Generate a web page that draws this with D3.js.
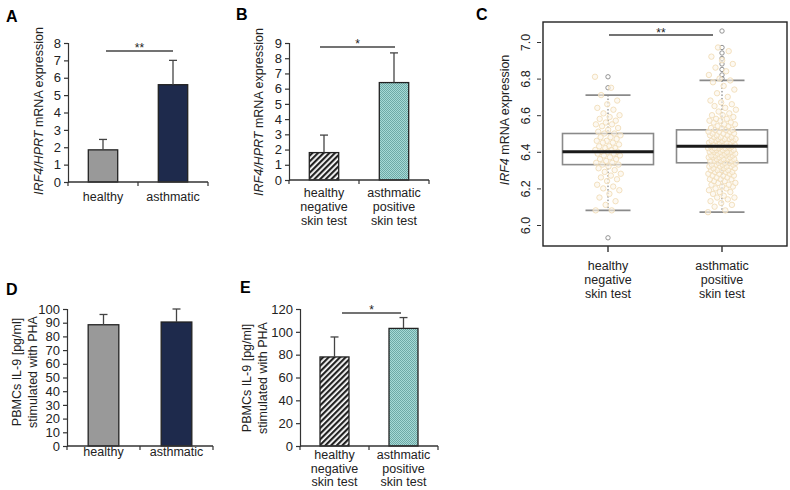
<!DOCTYPE html>
<html><head><meta charset="utf-8">
<script src="https://cdn.jsdelivr.net/npm/d3@7"></script>
<style>body{margin:0;background:#fff}svg{display:block;font-family:"Liberation Sans",Arial,sans-serif}</style>
</head><body>
<svg id="c" width="790" height="490"></svg>
<script>
// ---------- DATA ----------
const catsSimple = ["healthy", "asthmatic"];
const catsSkin = [["healthy", "negative", "skin test"], ["asthmatic", "positive", "skin test"]];

const aValues = [1.85, 5.6];
const aErrTop = [2.45, 7.0];
const aTicks = [0, 1, 2, 3, 4, 5, 6, 7, 8];

const bValues = [1.8, 6.4];
const bErrTop = [2.95, 8.35];
const bTicks = [0, 1, 2, 3, 4, 5, 6, 7, 8, 9];

const dValues = [88.5, 90.5];
const dErrTop = [96, 100];
const dTicks = [0, 10, 20, 30, 40, 50, 60, 70, 80, 90, 100];

const eValues = [78, 103];
const eErrTop = [95.5, 112.5];
const eTicks = [0, 20, 40, 60, 80, 100, 120];

const cTicks = [6.0, 6.2, 6.4, 6.6, 6.8, 7.0];
const cQ1 = [6.33, 6.34];
const cMedian = [6.40, 6.43];
const cQ3 = [6.50, 6.52];
const cWhiskLo = [6.08, 6.07];
const cWhiskHi = [6.71, 6.79];
const cOutliers = [[6.81, 6.75, 5.93], [7.06, 6.97, 6.94, 6.91, 6.88, 6.85, 6.82, 6.80]];
const cPointsHealthy = [6.81,6.75,6.71,6.68,6.66,6.64,6.63,6.61,6.60,6.59,6.58,6.57,6.56,6.55,6.55,6.54,6.53,6.52,6.51,6.50,6.50,6.49,6.48,6.48,6.47,6.46,6.46,6.45,6.45,6.44,6.43,6.43,6.42,6.42,6.41,6.41,6.40,6.40,6.40,6.39,6.39,6.38,6.38,6.37,6.36,6.36,6.35,6.34,6.34,6.33,6.33,6.32,6.31,6.30,6.29,6.28,6.27,6.26,6.25,6.24,6.22,6.21,6.20,6.19,6.17,6.15,6.13,6.11,6.08,6.08];
const cPointsAsthmatic = [6.07,6.08,6.10,6.11,6.12,6.13,6.14,6.15,6.15,6.16,6.17,6.18,6.18,6.19,6.20,6.20,6.21,6.21,6.22,6.22,6.23,6.23,6.24,6.24,6.25,6.25,6.25,6.26,6.26,6.27,6.27,6.27,6.28,6.28,6.28,6.29,6.29,6.29,6.30,6.30,6.30,6.30,6.31,6.31,6.31,6.32,6.32,6.32,6.32,6.33,6.33,6.33,6.33,6.34,6.34,6.34,6.34,6.35,6.35,6.35,6.35,6.36,6.36,6.36,6.36,6.37,6.37,6.37,6.37,6.38,6.38,6.38,6.38,6.38,6.39,6.39,6.39,6.39,6.40,6.40,6.40,6.40,6.40,6.41,6.41,6.41,6.41,6.42,6.42,6.42,6.42,6.42,6.43,6.43,6.43,6.43,6.44,6.44,6.44,6.44,6.45,6.45,6.45,6.45,6.46,6.46,6.46,6.46,6.47,6.47,6.47,6.47,6.48,6.48,6.48,6.49,6.49,6.49,6.50,6.50,6.50,6.51,6.51,6.51,6.52,6.52,6.52,6.53,6.53,6.54,6.54,6.55,6.55,6.56,6.56,6.57,6.57,6.58,6.58,6.59,6.60,6.60,6.61,6.62,6.63,6.64,6.65,6.66,6.67,6.68,6.70,6.72,6.74,6.76,6.78,6.79,6.80,6.82,6.84,6.86,6.88,6.90,6.92,6.95,6.97];

// ---------- DRAW ----------
const svg = d3.select("#c");
const defs = svg.append("defs");
const hatch = defs.append("pattern").attr("id", "hatch").attr("patternUnits", "userSpaceOnUse")
  .attr("width", 4).attr("height", 4).attr("patternTransform", "rotate(45)");
hatch.append("rect").attr("width", 4).attr("height", 4).attr("fill", "#ffffff");
hatch.append("rect").attr("width", 2.2).attr("height", 4).attr("fill", "#222222");
const teal = defs.append("pattern").attr("id", "teal").attr("patternUnits", "userSpaceOnUse")
  .attr("width", 2).attr("height", 2);
teal.append("rect").attr("width", 2).attr("height", 2).attr("fill", "#a6dad6");
teal.append("rect").attr("width", 1).attr("height", 1).attr("fill", "#6ea9a6");
teal.append("rect").attr("x", 1).attr("y", 1).attr("width", 1).attr("height", 1).attr("fill", "#6ea9a6");

const AX = "#333";
function letter(t, x, y) {
  svg.append("text").attr("x", x).attr("y", y).attr("font-size", 16).attr("font-weight", "bold").text(t);
}

function barPanel(o) {
  const g = svg.append("g");
  const y = d3.scaleLinear().domain([0, o.ticks[o.ticks.length - 1]]).range([o.y0, o.y1]);
  const x = d3.scaleBand().domain(d3.range(o.values.length)).range([o.x0, o.x1]).paddingInner(0.58).paddingOuter(0.29);
  const ya = g.append("g").attr("transform", `translate(${o.x0},0)`)
    .call(d3.axisLeft(y).tickValues(o.ticks).tickSize(4).tickPadding(3).tickFormat(d3.format("d")));
  ya.select(".domain").attr("stroke", AX).attr("stroke-width", 1.2);
  ya.selectAll(".tick line").attr("stroke", AX).attr("stroke-width", 1.2);
  ya.selectAll("text").attr("font-size", 13).attr("fill", "#222").attr("font-family", "Liberation Sans, Arial");
  g.selectAll("rect.bar").data(o.values).join("rect").attr("class", "bar")
    .attr("x", (d, i) => x(i)).attr("width", x.bandwidth())
    .attr("y", d => y(d)).attr("height", d => y(0) - y(d))
    .attr("fill", (d, i) => o.fills[i]).attr("stroke", "#222").attr("stroke-width", 1.3);
  o.err.forEach((e, i) => {
    const cx = x(i) + x.bandwidth() / 2;
    g.append("line").attr("x1", cx).attr("x2", cx).attr("y1", y(o.values[i])).attr("y2", y(e)).attr("stroke", "#444").attr("stroke-width", 1.3);
    g.append("line").attr("x1", cx - 4).attr("x2", cx + 4).attr("y1", y(e)).attr("y2", y(e)).attr("stroke", "#444").attr("stroke-width", 1.3);
  });
  g.append("line").attr("x1", o.x0).attr("x2", o.x1).attr("y1", o.y0).attr("y2", o.y0).attr("stroke", AX).attr("stroke-width", 1.3);
  [o.x0, (o.x0 + o.x1) / 2, o.x1].forEach(t => g.append("line").attr("x1", t).attr("x2", t).attr("y1", o.y0).attr("y2", o.y0 + 4).attr("stroke", AX).attr("stroke-width", 1.2));
  o.cats.forEach((c, i) => {
    const lines = Array.isArray(c) ? c : [c];
    const cx = x(i) + x.bandwidth() / 2;
    lines.forEach((l, j) => g.append("text").attr("x", cx).attr("y", o.labelY + j * o.lineH)
      .attr("text-anchor", "middle").attr("font-size", 12.5).attr("fill", "#222").text(l));
  });
  const yl = g.append("text").attr("transform", `translate(${o.ylX},${o.ylY}) rotate(-90)`)
    .attr("text-anchor", "middle").attr("font-size", 12.5).attr("fill", "#222");
  if (o.ylabel === "irf") {
    yl.append("tspan").attr("font-style", "italic").text("IRF4/HPRT");
    yl.append("tspan").text(" mRNA expression");
  } else {
    yl.append("tspan").attr("x", 0).attr("dy", "-0.55em").text("PBMCs IL-9 [pg/ml]");
    yl.append("tspan").attr("x", 0).attr("dy", "1.25em").text("stimulated with PHA");
  }
  if (o.sig) {
    g.append("line").attr("x1", o.sig.x1).attr("x2", o.sig.x2).attr("y1", o.sig.y).attr("y2", o.sig.y).attr("stroke", "#444").attr("stroke-width", 1.3);
    g.append("text").attr("x", (o.sig.x1 + o.sig.x2) / 2).attr("y", o.sig.y + 1).attr("text-anchor", "middle").attr("font-size", 12).attr("fill", "#222").text(o.sig.t);
  }
}

letter("A", 6, 22);
barPanel({x0: 68, x1: 208, y0: 182, y1: 43, ticks: aTicks, values: aValues, err: aErrTop, fills: ["#999999", "#1e2a4c"],
  cats: catsSimple, labelY: 201, lineH: 14, ylabel: "irf", ylX: 43, ylY: 111, sig: {x1: 106, x2: 173, y: 51, t: "**"}});

letter("B", 236, 20);
barPanel({x0: 289, x1: 429, y0: 180, y1: 43, ticks: bTicks, values: bValues, err: bErrTop, fills: ["url(#hatch)", "url(#teal)"],
  cats: catsSkin, labelY: 197, lineH: 14, ylabel: "irf", ylX: 263, ylY: 112, sig: {x1: 320, x2: 395, y: 47, t: "*"}});

letter("D", 6, 295);
barPanel({x0: 67, x1: 213, y0: 446, y1: 309, ticks: dTicks, values: dValues, err: dErrTop, fills: ["#999999", "#1e2a4c"],
  cats: catsSimple, labelY: 456, lineH: 14, ylabel: "il9", ylX: 28, ylY: 372});

letter("E", 240, 293);
barPanel({x0: 300, x1: 438, y0: 446, y1: 309, ticks: eTicks, values: eValues, err: eErrTop, fills: ["url(#hatch)", "url(#teal)"],
  cats: catsSkin, labelY: 459, lineH: 13.5, ylabel: "il9", ylX: 258, ylY: 378, sig: {x1: 342, x2: 401, y: 313, t: "*"}});

// ---------- Panel C ----------
letter("C", 476, 20);
const gC = svg.append("g");
const fx0 = 543, fx1 = 787, fy0 = 22, fy1 = 246;
const yC = d3.scaleLinear().domain([6, 7]).range([225, 42]);
const xC = d3.scalePoint().domain([0, 1]).range([608, 722]);
gC.append("rect").attr("x", fx0).attr("y", fy0).attr("width", fx1 - fx0).attr("height", fy1 - fy0)
  .attr("fill", "none").attr("stroke", "#222").attr("stroke-width", 1.4);
const yaC = gC.append("g").attr("transform", `translate(${fx0 - 6},0)`)
  .call(d3.axisLeft(yC).tickValues(cTicks).tickSize(4).tickPadding(0).tickFormat(d3.format(".1f")));
yaC.select(".domain").remove();
yaC.selectAll(".tick line").attr("stroke", AX).attr("x2", 4).attr("x1", 0);
yaC.selectAll(".tick text").attr("font-size", 12.5).attr("fill", "#222").attr("text-anchor", "middle")
  .attr("dy", "0.35em").attr("transform", "translate(-11,0) rotate(-90)").attr("x", 0).attr("y", 0);
gC.append("text").attr("transform", `translate(509,120) rotate(-90)`).attr("text-anchor", "middle")
  .attr("font-size", 12.5).attr("fill", "#222")
  .call(t => { t.append("tspan").attr("font-style", "italic").text("IRF4"); t.append("tspan").text(" mRNA expression"); });
[0, 1].forEach(i => {
  gC.append("line").attr("x1", xC(i)).attr("x2", xC(i)).attr("y1", fy1).attr("y2", fy1 + 6).attr("stroke", AX).attr("stroke-width", 1.4);
  catsSkin[i].forEach((l, j) => gC.append("text").attr("x", xC(i)).attr("y", 270 + j * 14).attr("text-anchor", "middle")
    .attr("font-size", 12.5).attr("fill", "#222").text(l));
});
const boxW = 91, capW = 45;
[0, 1].forEach(i => {
  const cx = xC(i);
  gC.append("line").attr("x1", cx).attr("x2", cx).attr("y1", yC(cWhiskHi[i])).attr("y2", yC(cQ3[i])).attr("stroke", "#666").attr("stroke-dasharray", "1.5,2").attr("stroke-width", 1);
  gC.append("line").attr("x1", cx).attr("x2", cx).attr("y1", yC(cQ1[i])).attr("y2", yC(cWhiskLo[i])).attr("stroke", "#666").attr("stroke-dasharray", "1.5,2").attr("stroke-width", 1);
  [cWhiskHi[i], cWhiskLo[i]].forEach(v => gC.append("line").attr("x1", cx - capW / 2).attr("x2", cx + capW / 2)
    .attr("y1", yC(v)).attr("y2", yC(v)).attr("stroke", "#8a8a8a").attr("stroke-width", 1.8));
  gC.append("rect").attr("x", cx - boxW / 2).attr("width", boxW).attr("y", yC(cQ3[i])).attr("height", yC(cQ1[i]) - yC(cQ3[i]))
    .attr("fill", "none").attr("stroke", "#8a8a8a").attr("stroke-width", 1.6);
  cOutliers[i].forEach(v => gC.append("circle").attr("cx", cx).attr("cy", yC(v)).attr("r", 2.2).attr("fill", "none").attr("stroke", "#888").attr("stroke-width", 0.9));
});
[cPointsHealthy, cPointsAsthmatic].forEach((arr, i) => {
  const cx = xC(i);
  const spread = i === 0 ? 13 : 14;
  gC.append("g").selectAll("circle").data(arr).join("circle")
    .attr("cx", (d, k) => cx + (((k * 0.6180339887) % 1) - 0.5) * 2 * spread)
    .attr("cy", d => yC(d)).attr("r", 2.7)
    .attr("fill", "#fcf5ea").attr("fill-opacity", 0.6).attr("stroke", "#f0dcb8").attr("stroke-width", 0.9);
});
[0, 1].forEach(i => {
  const cx = xC(i);
  gC.append("line").attr("x1", cx - boxW / 2).attr("x2", cx + boxW / 2).attr("y1", yC(cMedian[i])).attr("y2", yC(cMedian[i]))
    .attr("stroke", "#1a1a1a").attr("stroke-width", 3);
});
gC.append("line").attr("x1", 609).attr("x2", 713).attr("y1", 35).attr("y2", 35).attr("stroke", "#444").attr("stroke-width", 1.3);
gC.append("text").attr("x", 661).attr("y", 37).attr("text-anchor", "middle").attr("font-size", 12).attr("fill", "#222").text("**");
</script>
</body></html>
